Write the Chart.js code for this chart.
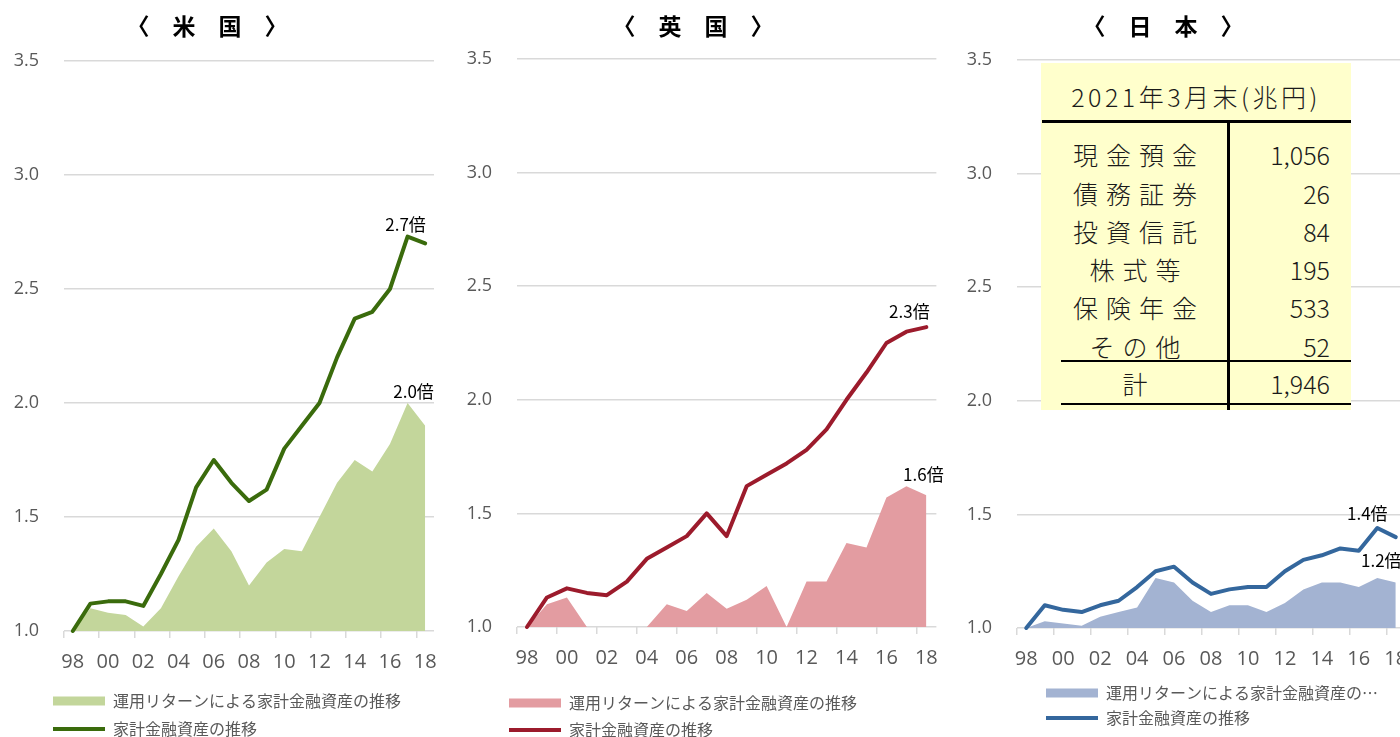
<!DOCTYPE html>
<html lang="ja">
<head>
<meta charset="utf-8">
<title>家計金融資産の推移</title>
<script src="https://cdn.jsdelivr.net/npm/chart.js@4.4.1/dist/chart.umd.min.js"></script>
<style>
  html, body { margin: 0; padding: 0; background: #fff; width: 1400px; height: 737px; overflow: hidden; }
  canvas { position: absolute; top: 0; }
  .ttl {
    position: absolute; top: 8px; line-height: 30px;
    font: 700 23px "Noto Sans CJK JP"; color: #000;
    transform: translateX(-50%); white-space: pre;
  }
  #holdings {
    position: absolute; left: 1041px; top: 63px; width: 310px; height: 347px;
    background: #ffffcc; color: #1a1a1a;
    font-family: "Noto Sans CJK JP"; font-weight: 300; font-size: 25px;
  }
  #holdings div { position: absolute; }
  #holdings .hd { left: 0; width: 310px; top: 15px; height: 36px; line-height: 36px; text-align: center; letter-spacing: 3.5px; }
  #holdings .rule { background: #000; }
  #holdings .lbl { left: 0; width: 180px; padding-left: 8px; height: 36px; line-height: 36px; text-align: center; letter-spacing: 8px; }
  #holdings .val { right: 21px; height: 36px; line-height: 36px; text-align: right; }
</style>
</head>
<body>
<canvas id="usChart" width="460" height="737" style="left:0"></canvas>
<canvas id="ukChart" width="495" height="737" style="left:455px"></canvas>
<canvas id="jpChart" width="470" height="737" style="left:950px"></canvas>

<div class="ttl" style="left:207px">〈　米　国　〉</div>
<div class="ttl" style="left:693px">〈　英　国　〉</div>
<div class="ttl" style="left:1163px">〈　日　本　〉</div>

<div id="holdings"></div>

<script>
// years on the x axis (1998-2018), every other one is labelled
const years = ['98', '99', '00', '01', '02', '03', '04', '05', '06', '07', '08',
  '09', '10', '11', '12', '13', '14', '15', '16', '17', '18'];
const yTicks = [1.0, 1.5, 2.0, 2.5, 3.0, 3.5];

const returnLabel = '運用リターンによる家計金融資産の推移';
const assetsLabel = '家計金融資産の推移';

// US
const usReturn = [1.00, 1.10, 1.08, 1.07, 1.02, 1.10, 1.24, 1.37, 1.45, 1.35, 1.20,
  1.30, 1.36, 1.35, 1.50, 1.65, 1.75, 1.70, 1.82, 2.00, 1.90];
const usAssets = [1.00, 1.12, 1.13, 1.13, 1.11, 1.25, 1.40, 1.63, 1.75, 1.65, 1.57,
  1.62, 1.80, 1.90, 2.00, 2.20, 2.37, 2.40, 2.50, 2.73, 2.70];

// UK
const ukReturn = [1.00, 1.10, 1.13, 1.00, 1.00, 1.00, 1.00, 1.10, 1.07, 1.15, 1.08,
  1.12, 1.18, 1.00, 1.20, 1.20, 1.37, 1.35, 1.57, 1.62, 1.58];
const ukAssets = [1.00, 1.13, 1.17, 1.15, 1.14, 1.20, 1.30, 1.35, 1.40, 1.50, 1.40,
  1.62, 1.67, 1.72, 1.78, 1.87, 2.00, 2.12, 2.25, 2.30, 2.32];

// Japan
const jpReturn = [1.00, 1.03, 1.02, 1.01, 1.05, 1.07, 1.09, 1.22, 1.20, 1.12, 1.07,
  1.10, 1.10, 1.07, 1.11, 1.17, 1.20, 1.20, 1.18, 1.22, 1.20];
const jpAssets = [1.00, 1.10, 1.08, 1.07, 1.10, 1.12, 1.18, 1.25, 1.27, 1.20, 1.15,
  1.17, 1.18, 1.18, 1.25, 1.30, 1.32, 1.35, 1.34, 1.44, 1.40];

// household financial assets, end of March 2021 (trillion yen)
const holdingsTitle = '2021年3月末(兆円)';
const holdingItems = ['現金預金', '債務証券', '投資信託', '株式等', '保険年金', 'その他'];
const holdingValues = ['1,056', '26', '84', '195', '533', '52'];
const totalLabel = '計';
const totalValue = '1,946';

const GRID = '#d9d9d9';
const GREY_TEXT = '#595959';

// moves the legend to a fixed spot and writes the "x倍" tags
const panelExtras = {
  id: 'panelExtras',
  afterLayout(chart, args, opts) {
    const lg = chart.legend;
    if (!lg || !opts.legendAt) return;
    const pad = chart.options.plugins.legend.labels.padding;
    lg.left = opts.legendAt.x - pad;
    lg.top = opts.legendAt.y - pad - 8;
    lg.right = chart.width;
    lg.bottom = chart.height;
  },
  afterDatasetsDraw(chart, args, opts) {
    const ctx = chart.ctx;
    ctx.save();
    ctx.font = '17px "Noto Sans CJK JP"';
    ctx.fillStyle = '#000';
    ctx.textAlign = 'center';
    ctx.textBaseline = 'middle';
    (opts.tags || []).forEach(t => {
      const pt = chart.getDatasetMeta(t.dataset).data[t.index];
      const v = chart.data.datasets[t.dataset].data[t.index];
      ctx.fillText(v.toFixed(1) + '倍', pt.x + t.dx, pt.y + t.dy);
    });
    ctx.restore();
  }
};

function makePanel(id, p) {
  return new Chart(document.getElementById(id), {
    type: 'line',
    data: {
      labels: years,
      datasets: [
        {
          label: p.areaLabel || returnLabel,
          data: p.ret,
          backgroundColor: p.areaColor,
          borderColor: p.areaColor,
          borderWidth: 0,
          pointRadius: 0,
          pointStyle: 'rect',
          fill: 'start',
          order: 1
        },
        {
          label: assetsLabel,
          data: p.assets,
          borderColor: p.lineColor,
          backgroundColor: p.lineColor,
          borderWidth: 4,
          borderCapStyle: 'round',
          borderJoinStyle: 'round',
          pointRadius: 0,
          pointStyle: 'line',
          fill: false,
          clip: 6,
          order: 0
        }
      ]
    },
    options: {
      responsive: false,
      devicePixelRatio: 1,
      animation: false,
      events: [],
      layout: { padding: { left: 0, right: p.padRight, top: p.padTop, bottom: p.padBottom } },
      scales: {
        x: {
          offset: true,
          border: { display: false },
          grid: {
            offset: true,
            drawOnChartArea: false,
            drawTicks: true,
            tickLength: 7,
            lineWidth: 1.5,
            color: c => (c.index % 2 === 0 ? GRID : 'rgba(0,0,0,0)')
          },
          ticks: {
            autoSkip: false,
            maxRotation: 0,
            padding: 12,
            color: GREY_TEXT,
            font: { family: '"Open Sans"', size: 20 },
            callback: (v, i) => (i % 2 === 0 ? years[i] : '')
          },
          afterFit: s => { s.height = 44; }
        },
        y: {
          min: yTicks[0],
          max: yTicks[yTicks.length - 1],
          border: { display: false },
          grid: { color: GRID, lineWidth: 1.5, drawTicks: false },
          afterBuildTicks: s => { s.ticks = yTicks.map(v => ({ value: v })); },
          ticks: {
            padding: 25,
            color: GREY_TEXT,
            font: { family: '"Open Sans"', size: 18 },
            callback: v => v.toFixed(1)
          },
          afterFit: s => { s.width = p.yWidth; }
        }
      },
      plugins: {
        tooltip: { enabled: false },
        title: { display: false },
        legend: {
          position: 'bottom',
          align: 'start',
          maxHeight: 40,
          labels: {
            usePointStyle: true,
            pointStyleWidth: 52,
            boxHeight: 9,
            padding: p.legendGap,
            color: GREY_TEXT,
            font: { family: '"Noto Sans CJK JP"', size: 16 },
            sort: (a, b) => a.datasetIndex - b.datasetIndex
          }
        },
        panelExtras: { legendAt: p.legendAt, tags: p.tags }
      }
    },
    plugins: [panelExtras]
  });
}

makePanel('usChart', {
  ret: usReturn, assets: usAssets,
  areaColor: '#c3d69b', lineColor: '#3a6b0c',
  yWidth: 64, padRight: 26, padTop: 61, padBottom: 22,
  legendAt: { x: 53, y: 701 }, legendGap: 12,
  tags: [{ dataset: 1, index: 19, dx: -2, dy: -12 }, { dataset: 0, index: 19, dx: 6, dy: -11 }]
});

makePanel('ukChart', {
  ret: ukReturn, assets: ukAssets,
  areaColor: '#e39ca1', lineColor: '#9c1b2c',
  yWidth: 62, padRight: 8, padTop: 59, padBottom: 26,
  legendAt: { x: 54, y: 703 }, legendGap: 11,
  tags: [{ dataset: 1, index: 19, dx: 3, dy: -20 }, { dataset: 0, index: 19, dx: 17, dy: -12 }]
});

makePanel('jpChart', {
  ret: jpReturn, assets: jpAssets,
  areaLabel: '運用リターンによる家計金融資産の…',
  areaColor: '#a3b3d2', lineColor: '#34679d',
  yWidth: 67, padRight: 15, padTop: 60, padBottom: 25,
  legendAt: { x: 96, y: 693 }, legendGap: 9,
  tags: [{ dataset: 1, index: 19, dx: -10, dy: -14 }, { dataset: 0, index: 19, dx: 4, dy: -17 }]
});

// holdings table over the Japan panel
(function buildHoldings() {
  const box = document.getElementById('holdings');
  const add = (cls, style, text) => {
    const d = document.createElement('div');
    d.className = cls;
    Object.assign(d.style, style);
    if (text) d.textContent = text;
    box.appendChild(d);
  };
  add('hd', {}, holdingsTitle);
  add('rule', { left: '1px', top: '57px', width: '309px', height: '3px' });
  add('rule', { left: '186px', top: '58px', width: '3px', height: '289px' });
  const rowCenters = [91, 130, 168, 206, 244, 283];
  holdingItems.forEach((name, i) => {
    add('lbl', { top: (rowCenters[i] - 18) + 'px' }, name);
    add('val', { top: (rowCenters[i] - 18) + 'px' }, holdingValues[i]);
  });
  add('rule', { left: '20px', top: '297px', width: '290px', height: '2px' });
  add('lbl', { top: (320 - 18) + 'px' }, totalLabel);
  add('val', { top: (320 - 18) + 'px' }, totalValue);
  add('rule', { left: '20px', top: '340px', width: '290px', height: '2px' });
})();
</script>
</body>
</html>
